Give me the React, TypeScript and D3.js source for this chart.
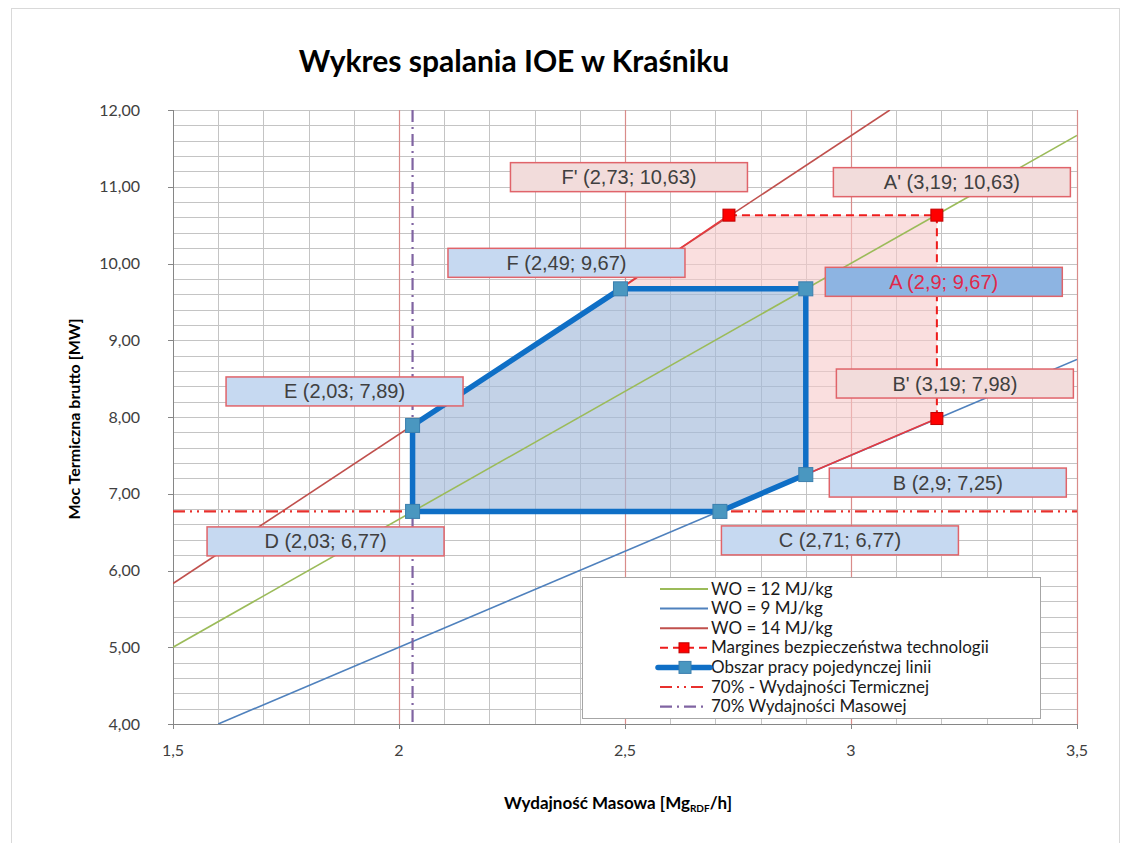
import React, { useEffect, useRef } from "react";
import * as d3 from "d3";

const W = 1128;
const H = 843;

// lines of constant calorific value (end points)
const wo12X = [1.5, 3.5];
const wo12Y = [5.0, 11.67];
const wo9X = [1.6, 3.5];
const wo9Y = [4.0, 8.75];
const wo14X = [1.5, 3.086];
const wo14Y = [5.83, 12.0];

// safety margin F' -> A' -> B'
const marginX = [2.73, 3.19, 3.19];
const marginY = [10.63, 10.63, 7.98];

// single line working area D E F A B C D
const areaX = [2.03, 2.03, 2.49, 2.9, 2.9, 2.71, 2.03];
const areaY = [6.77, 7.89, 9.67, 9.67, 7.25, 6.77, 6.77];

// shaded margin zone F F' A' B' B A
const zoneX = [2.49, 2.73, 3.19, 3.19, 2.9, 2.9];
const zoneY = [9.67, 10.63, 10.63, 7.98, 7.25, 9.67];

const thermal70 = 6.77;
const mass70 = 2.03;

const pointNames = ["F'", "A'", "B'", "F", "A", "E", "B", "D", "C"];
const pointX = [2.73, 3.19, 3.19, 2.49, 2.9, 2.03, 2.9, 2.03, 2.71];
const pointY = [10.63, 10.63, 7.98, 9.67, 9.67, 7.89, 7.25, 6.77, 6.77];

const yTicks = [4, 5, 6, 7, 8, 9, 10, 11, 12];
const xTicks = [1.5, 2, 2.5, 3, 3.5];

const legendLabels = [
  "WO = 12 MJ/kg",
  "WO = 9 MJ/kg",
  "WO = 14 MJ/kg",
  "Margines bezpieczeństwa technologii",
  "Obszar pracy pojedynczej linii",
  "70% - Wydajności Termicznej",
  "70% Wydajności Masowej",
];

// label box placement (pixel offset from its point) and style
const labelDx = [-100, 15, 18, -54, 138, -68, 142, -87, 120];
const labelDy = [-38, -33, -35, -26, -7, -34, 8, 30, 29];
const labelKind = ["margin", "margin", "margin", "area", "active", "area", "area", "area", "area"];

const GREEN = "#9bbb59";
const BLUE = "#4f81bd";
const BROWN = "#c0504d";
const RED = "#ee1c1c";
const AREA = "#0f6fc6";
const PURPLE = "#8064a2";

const fmt = (v: number) => String(v).replace(".", ",");

export default function App() {
  const svgRef = useRef<SVGSVGElement>(null);

  useEffect(() => {
    if (!svgRef.current) return;
    const svg = d3.select(svgRef.current);
    svg.selectAll("*").remove();

    const x = d3.scaleLinear().domain([1.5, 3.5]).range([173, 1077]);
    const y = d3.scaleLinear().domain([4, 12]).range([724, 110]);
    const [x0, x1] = x.range();
    const [y0, y1] = y.range();

    // outer chart frame
    svg
      .append("rect")
      .attr("x", 11.5)
      .attr("y", 8.5)
      .attr("width", 1108)
      .attr("height", 860)
      .attr("fill", "#fff")
      .attr("stroke", "#d9d9d9");

    // title
    svg
      .append("text")
      .attr("x", 514)
      .attr("y", 72)
      .attr("text-anchor", "middle")
      .attr("font-family", "Lato, sans-serif")
      .attr("font-weight", 700)
      .attr("font-size", 30)
      .attr("fill", "#000")
      .text("Wykres spalania IOE w Kraśniku");

    svg
      .append("defs")
      .append("clipPath")
      .attr("id", "plot")
      .append("rect")
      .attr("x", x0)
      .attr("y", y1)
      .attr("width", x1 - x0)
      .attr("height", y0 - y1);

    const grid = svg.append("g");
    // horizontal grid every 0.2
    grid
      .selectAll("line.h")
      .data(d3.range(4, 12.01, 0.2))
      .join("line")
      .attr("x1", x0)
      .attr("x2", x1)
      .attr("y1", (d) => Math.round(y(d)) + 0.5)
      .attr("y2", (d) => Math.round(y(d)) + 0.5)
      .attr("stroke", "#c4c4c4")
      .attr("stroke-width", 1);
    // vertical grid every 0.1
    const vMinor = d3.range(1.6, 3.45, 0.1).filter((d) => Math.abs(d * 2 - Math.round(d * 2)) > 0.01);
    grid
      .selectAll("line.v")
      .data(vMinor)
      .join("line")
      .attr("x1", (d) => Math.round(x(d)) + 0.5)
      .attr("x2", (d) => Math.round(x(d)) + 0.5)
      .attr("y1", y1)
      .attr("y2", y0)
      .attr("stroke", "#c4c4c4");
    grid
      .selectAll("line.vm")
      .data([2, 2.5, 3, 3.5])
      .join("line")
      .attr("x1", (d) => Math.round(x(d)) + 0.5)
      .attr("x2", (d) => Math.round(x(d)) + 0.5)
      .attr("y1", y1)
      .attr("y2", y0)
      .attr("stroke", "#d98c8a")
      .attr("stroke-width", 1.2);

    // axes
    const ax = svg.append("g").attr("stroke", "#868686");
    ax.append("line").attr("x1", x0 + 0.5).attr("x2", x0 + 0.5).attr("y1", y1).attr("y2", y0);
    ax.append("line").attr("x1", x0).attr("x2", x1).attr("y1", y0 + 0.5).attr("y2", y0 + 0.5);
    ax.selectAll("line.yt")
      .data(yTicks)
      .join("line")
      .attr("x1", x0 - 5)
      .attr("x2", x0)
      .attr("y1", (d) => Math.round(y(d)) + 0.5)
      .attr("y2", (d) => Math.round(y(d)) + 0.5);
    ax.selectAll("line.xt")
      .data(xTicks)
      .join("line")
      .attr("x1", (d) => Math.round(x(d)) + 0.5)
      .attr("x2", (d) => Math.round(x(d)) + 0.5)
      .attr("y1", y0)
      .attr("y2", y0 + 5);

    svg
      .append("g")
      .selectAll("text")
      .data(yTicks)
      .join("text")
      .attr("x", 140)
      .attr("y", (d) => y(d) + 5.5)
      .attr("text-anchor", "end")
      .attr("font-family", "Lato, sans-serif")
      .attr("font-size", 16)
      .attr("fill", "#404040")
      .text((d) => d.toFixed(2).replace(".", ","));

    svg
      .append("g")
      .selectAll("text")
      .data(xTicks)
      .join("text")
      .attr("x", (d) => x(d))
      .attr("y", 756)
      .attr("text-anchor", "middle")
      .attr("font-family", "Lato, sans-serif")
      .attr("font-size", 16)
      .attr("fill", "#404040")
      .text((d) => fmt(d));

    // axis titles
    svg
      .append("text")
      .attr("transform", "translate(80,419) rotate(-90)")
      .attr("text-anchor", "middle")
      .attr("font-family", "Lato, sans-serif")
      .attr("font-weight", 700)
      .attr("font-size", 16)
      .text("Moc Termiczna brutto [MW]");

    const xt = svg
      .append("text")
      .attr("x", 618)
      .attr("y", 809)
      .attr("text-anchor", "middle")
      .attr("font-family", "Lato, sans-serif")
      .attr("font-weight", 700)
      .attr("font-size", 17);
    xt.append("tspan").text("Wydajność Masowa [Mg");
    xt.append("tspan").attr("font-size", 10).attr("dy", 3).text("RDF");
    xt.append("tspan").attr("dy", -3).text("/h]");

    const plot = svg.append("g").attr("clip-path", "url(#plot)");
    const line = d3
      .line<number>()
      .x((d) => d[0])
      .y((d) => d[1]);
    const pts = (xs: number[], ys: number[]) => xs.map((v, i) => [x(v), y(ys[i])] as any);

    // shaded margin zone
    plot
      .append("path")
      .attr("d", line(pts(zoneX, zoneY)) + "Z")
      .attr("fill", "#f7caca")
      .attr("fill-opacity", 0.6);

    // working area fill
    plot
      .append("path")
      .attr("d", line(pts(areaX, areaY)) + "Z")
      .attr("fill", "#a3bada")
      .attr("fill-opacity", 0.65);

    // WO lines
    const woSeries = [
      { xs: wo12X, ys: wo12Y, c: GREEN },
      { xs: wo9X, ys: wo9Y, c: BLUE },
      { xs: wo14X, ys: wo14Y, c: BROWN },
    ];
    woSeries.forEach((s) => {
      plot
        .append("path")
        .attr("d", line(pts(s.xs, s.ys)))
        .attr("fill", "none")
        .attr("stroke", s.c)
        .attr("stroke-width", 1.6);
    });

    // zone edges along WO14 and WO9
    plot
      .append("path")
      .attr("d", line(pts([zoneX[0], zoneX[1]], [zoneY[0], zoneY[1]])))
      .attr("stroke", "#e8383d")
      .attr("stroke-width", 1.5)
      .attr("fill", "none");
    plot
      .append("path")
      .attr("d", line(pts([zoneX[4], zoneX[3]], [zoneY[4], zoneY[3]])))
      .attr("stroke", "#e8383d")
      .attr("stroke-width", 1.5)
      .attr("fill", "none");

    // 70% thermal capacity
    plot
      .append("line")
      .attr("x1", x0)
      .attr("x2", x1)
      .attr("y1", y(thermal70))
      .attr("y2", y(thermal70))
      .attr("stroke", "#e8302d")
      .attr("stroke-width", 2.2)
      .attr("stroke-dasharray", "12,5,2,5,2,5");

    // 70% mass capacity
    plot
      .append("line")
      .attr("x1", x(mass70))
      .attr("x2", x(mass70))
      .attr("y1", y1)
      .attr("y2", y0)
      .attr("stroke", PURPLE)
      .attr("stroke-width", 2.2)
      .attr("stroke-dasharray", "12,5,2,5");

    // safety margin
    plot
      .append("path")
      .attr("d", line(pts(marginX, marginY)))
      .attr("fill", "none")
      .attr("stroke", RED)
      .attr("stroke-width", 2)
      .attr("stroke-dasharray", "8,5");
    plot
      .selectAll("rect.m")
      .data(marginX.map((v, i) => [x(v), y(marginY[i])]))
      .join("rect")
      .attr("x", (d) => d[0] - 6)
      .attr("y", (d) => d[1] - 6)
      .attr("width", 12)
      .attr("height", 12)
      .attr("fill", "#ff0000")
      .attr("stroke", "#c00000");

    // working area outline
    plot
      .append("path")
      .attr("d", line(pts(areaX, areaY)) + "Z")
      .attr("fill", "none")
      .attr("stroke", AREA)
      .attr("stroke-width", 5.5)
      .attr("stroke-linejoin", "round");
    plot
      .selectAll("rect.a")
      .data(areaX.slice(0, 6).map((v, i) => [x(v), y(areaY[i])]))
      .join("rect")
      .attr("x", (d) => d[0] - 7)
      .attr("y", (d) => d[1] - 7)
      .attr("width", 14)
      .attr("height", 14)
      .attr("fill", "#4a97c0")
      .attr("stroke", "#3b7fae")
      .attr("stroke-width", 1);

    // data labels
    const boxW = 237;
    const boxH = 29;
    const fills: Record<string, string> = { margin: "#f2dcdb", area: "#c6d9f1", active: "#8db4e2" };
    const labels = svg
      .append("g")
      .selectAll("g")
      .data(pointNames.map((n, i) => ({ n, i })))
      .join("g")
      .attr(
        "transform",
        (d) => `translate(${x(pointX[d.i]) + labelDx[d.i]},${y(pointY[d.i]) + labelDy[d.i]})`,
      );
    labels
      .append("rect")
      .attr("x", -boxW / 2)
      .attr("y", -boxH / 2)
      .attr("width", boxW)
      .attr("height", boxH)
      .attr("fill", (d) => fills[labelKind[d.i]])
      .attr("stroke", "#e0646a")
      .attr("stroke-width", 1.5);
    labels
      .append("text")
      .attr("y", 7)
      .attr("text-anchor", "middle")
      .attr("font-family", "'Liberation Sans', Arial, sans-serif")
      .attr("font-size", 20)
      .attr("fill", (d) => (labelKind[d.i] === "active" ? "#e0284a" : "#404040"))
      .text((d) => `${d.n} (${fmt(pointX[d.i])}; ${fmt(pointY[d.i])})`);

    // legend
    const lg = svg.append("g");
    lg.append("rect")
      .attr("x", 582.5)
      .attr("y", 577.5)
      .attr("width", 458)
      .attr("height", 141)
      .attr("fill", "#fff")
      .attr("stroke", "#a6a6a6");
    const sx0 = 660;
    const sx1 = 708;
    const rows = lg
      .selectAll("g")
      .data(legendLabels)
      .join("g")
      .attr("transform", (d, i) => `translate(0,${589 + i * 19.6})`);
    rows
      .append("text")
      .attr("x", 711)
      .attr("y", 5.5)
      .attr("font-family", "Lato, sans-serif")
      .attr("font-size", 17)
      .attr("fill", "#1a1a1a")
      .text((d) => d);
    const sym = (i: number) => d3.select(rows.nodes()[i]);
    [GREEN, BLUE, BROWN].forEach((c, i) => {
      sym(i).append("line").attr("x1", sx0).attr("x2", sx1).attr("stroke", c).attr("stroke-width", 2);
    });
    sym(3).append("line").attr("x1", sx0).attr("x2", sx1).attr("stroke", RED).attr("stroke-width", 2).attr("stroke-dasharray", "8,5");
    sym(3).append("rect").attr("x", 679).attr("y", -5).attr("width", 10).attr("height", 10).attr("fill", "#ff0000").attr("stroke", "#c00000");
    sym(4).append("line").attr("x1", sx0 - 2).attr("x2", sx1 + 2).attr("stroke", AREA).attr("stroke-width", 5.5).attr("stroke-linecap", "round");
    sym(4).append("rect").attr("x", 679).attr("y", -6).attr("width", 12).attr("height", 12).attr("fill", "#4a97c0").attr("stroke", "#3b7fae");
    sym(5).append("line").attr("x1", sx0).attr("x2", sx1).attr("stroke", "#e8302d").attr("stroke-width", 2.2).attr("stroke-dasharray", "12,5,2,5,2,5");
    sym(6).append("line").attr("x1", sx0).attr("x2", sx1).attr("stroke", PURPLE).attr("stroke-width", 2.2).attr("stroke-dasharray", "12,5,2,5");
  }, []);

  return (
    <svg
      ref={svgRef}
      width={W}
      height={H}
      style={{ position: "absolute", left: 0, top: 0, background: "#fff" }}
    />
  );
}
